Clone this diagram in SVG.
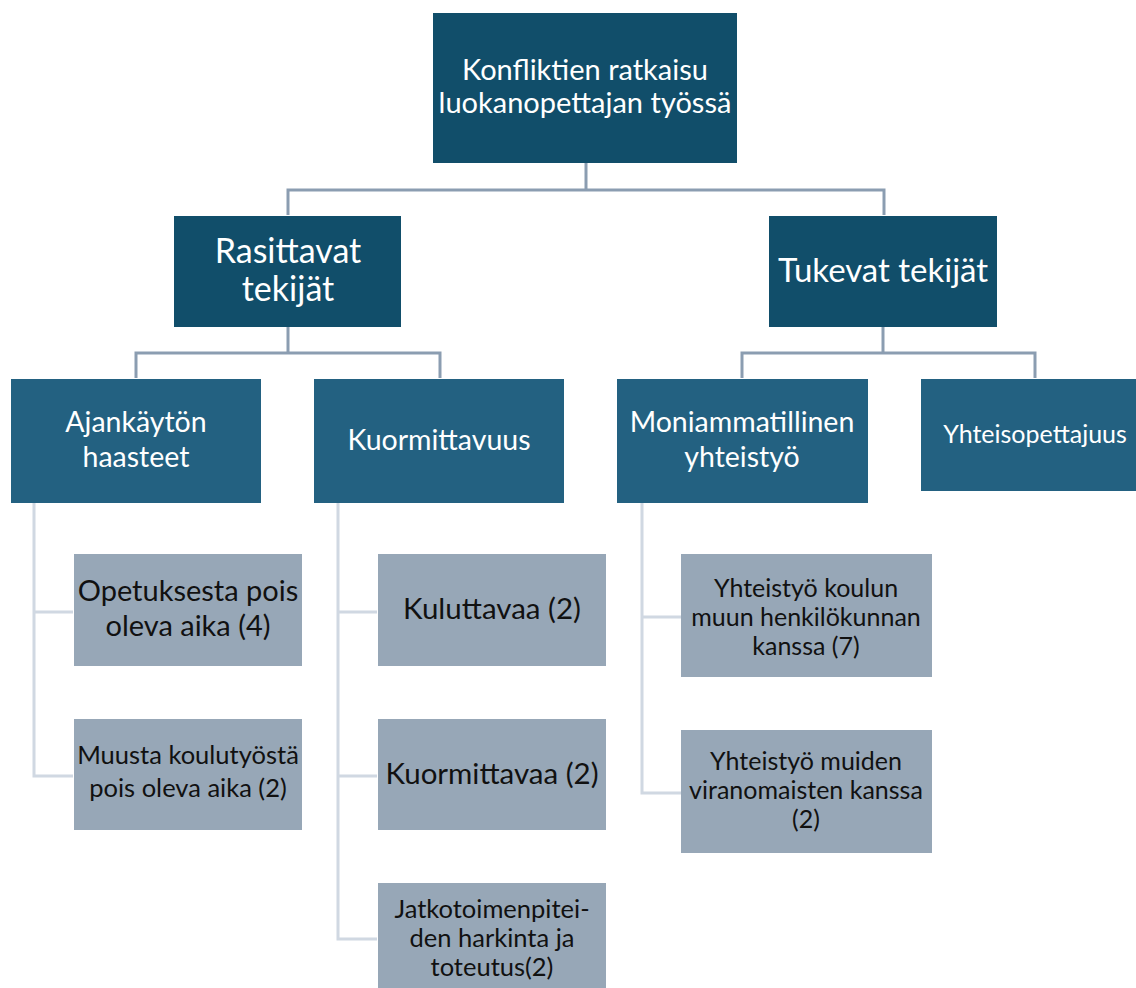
<svg xmlns="http://www.w3.org/2000/svg" width="1136" height="988" viewBox="0 0 1136 988">
<style>
.dark{fill:#114e6a}
.mid{fill:#236181}
.leaf{fill:#97a7b7}
.wt{fill:#ffffff;font-family:Lato,"Open Sans",sans-serif;text-anchor:middle}
.bt{fill:#111111;font-family:Lato,"Open Sans",sans-serif;text-anchor:middle}
.c1{fill:none;stroke:#8b9db1;stroke-width:3}
.c2{fill:none;stroke:#d0d8e2;stroke-width:3}
</style>
<rect width="1136" height="988" fill="#ffffff"/>
<g id="connectors">
<path class="c1" d="M586 163V190M288 215V190H884V215"/>
<path class="c1" d="M288 327V353M136 378V353H440V378"/>
<path class="c1" d="M883 327V353M742 378V353H1035V378"/>
<path class="c2" d="M34 503V776H73M34 612H73"/>
<path class="c2" d="M338 503V939H377M338 612H377M338 776H377"/>
<path class="c2" d="M642 503V793H681M642 617H681"/>
</g>
<g id="root">
<rect class="dark" x="433" y="13" width="304" height="150"/>
<text class="wt" font-size="29"><tspan x="585" y="80">Konfliktien ratkaisu</tspan><tspan x="585" y="113">luokanopettajan työssä</tspan></text>
</g>
<g id="rasittavat">
<rect class="dark" x="174" y="216" width="227" height="111"/>
<text class="wt" font-size="34"><tspan x="288" y="263">Rasittavat</tspan><tspan x="288" y="301">tekijät</tspan></text>
</g>
<g id="tukevat">
<rect class="dark" x="769" y="216" width="228" height="111"/>
<text class="wt" font-size="33" x="883" y="282">Tukevat tekijät</text>
</g>
<g id="ajankaytto">
<rect class="mid" x="11" y="379" width="250" height="124"/>
<text class="wt" font-size="28.5"><tspan x="136" y="432">Ajankäytön</tspan><tspan x="136" y="467">haasteet</tspan></text>
</g>
<g id="kuormittavuus">
<rect class="mid" x="314" y="379" width="250" height="124"/>
<text class="wt" font-size="28.5" x="439" y="450">Kuormittavuus</text>
</g>
<g id="moniammatillinen">
<rect class="mid" x="617" y="379" width="251" height="124"/>
<text class="wt" font-size="28.5"><tspan x="742" y="432">Moniammatillinen</tspan><tspan x="742" y="467">yhteistyö</tspan></text>
</g>
<g id="yhteisopettajuus">
<rect class="mid" x="921" y="379" width="215" height="112"/>
<text class="wt" font-size="25" x="1035" y="443">Yhteisopettajuus</text>
</g>
<g id="opetuksesta">
<rect class="leaf" x="74" y="554" width="228" height="112"/>
<text class="bt" font-size="29"><tspan x="188" y="601">Opetuksesta pois</tspan><tspan x="188" y="636">oleva aika (4)</tspan></text>
</g>
<g id="muusta">
<rect class="leaf" x="74" y="719" width="228" height="111"/>
<text class="bt" font-size="25.5"><tspan x="188" y="764">Muusta koulutyöstä</tspan><tspan x="188" y="797">pois oleva aika (2)</tspan></text>
</g>
<g id="kuluttavaa">
<rect class="leaf" x="378" y="554" width="228" height="112"/>
<text class="bt" font-size="29.5" x="492" y="619">Kuluttavaa (2)</text>
</g>
<g id="kuormittavaa">
<rect class="leaf" x="378" y="719" width="228" height="111"/>
<text class="bt" font-size="29.5" x="492" y="784">Kuormittavaa (2)</text>
</g>
<g id="jatkotoimenpiteet">
<rect class="leaf" x="378" y="883" width="228" height="105"/>
<text class="bt" font-size="25.5"><tspan x="492" y="918">Jatkotoimenpitei-</tspan><tspan x="492" y="947">den harkinta ja</tspan><tspan x="492" y="976">toteutus(2)</tspan></text>
</g>
<g id="yhteistyo-koulu">
<rect class="leaf" x="681" y="554" width="251" height="123"/>
<text class="bt" font-size="25"><tspan x="806" y="597">Yhteistyö koulun</tspan><tspan x="806" y="626">muun henkilökunnan</tspan><tspan x="806" y="655">kanssa (7)</tspan></text>
</g>
<g id="yhteistyo-viranomaiset">
<rect class="leaf" x="681" y="730" width="251" height="123"/>
<text class="bt" font-size="25"><tspan x="806" y="770">Yhteistyö muiden</tspan><tspan x="806" y="799">viranomaisten kanssa</tspan><tspan x="806" y="828">(2)</tspan></text>
</g>
</svg>
